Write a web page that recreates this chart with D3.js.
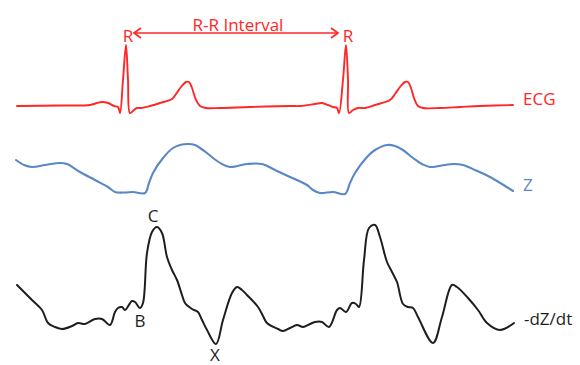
<!DOCTYPE html>
<html><head><meta charset="utf-8">
<script src="https://cdn.jsdelivr.net/npm/d3@7"></script>
<style>html,body{margin:0;padding:0;background:#fff;}svg{display:block;}</style>
</head><body>
<svg id="chart" width="580" height="365"></svg>
<script>
// ECG trace (time units, amplitude above baseline)
const ecgT = [1,44,74,81,86,92,98,102,104,107,110,112,114,118,121,125,134,144,156,160,165,170,173,176,180,184,190,204,234,274,284,299,306,312,317,321,323,327,330,332,333,337,342,349,359,374,379,384,389,392,395,398,402,407,424,444,464,497];
const ecgV = [0,0.5,1,3,4,3,0,-1,-7,26,61,26,-7,-4,-2,-2,0,3,7,12,19,24,24,18,6,0,-2,-2,-1,0,0,2,3,1,-1,-2,-7,26,61,26,-7,-4,-2,-2,1,6,12,19,24,24,18,8,0,-2,-2,-1,0,1];
// Impedance Z
const zT = [0,8,16,29,44,51,64,79,92,99,109,117,129,133,137,147,157,164,172,179,184,191,197,206,214,231,246,259,274,291,297,304,317,329,334,339,351,359,371,379,387,397,406,414,429,437,447,459,474,497];
const zV = [34,29,27,29,31,30,22,14,7,2,1.5,2,1,11,21,36,46,49,50,49,46,41,36,30,27,30,30,24,17,9,4,1,2,0,11,21,37,44,49,48,44,36,30,27,29,30,29,24,17,3];
// -dZ/dt
const dzT = [1,16,26,32,39,46,56,62,69,79,86,94,99,102,106,109,116,119,124,127,131,136,141,146,151,156,161,166,169,176,182,186,191,200,207,216,221,226,231,242,247,251,262,267,274,281,287,294,299,306,313,321,324,330,336,340,343,348,353,359,364,371,376,381,387,392,397,402,417,426,436,441,452,462,471,484,498];
const dzV = [59,44,34,21,17,15,18,21,20,25,25,19,32,36,37,34,43,42,36,41,91,112,117,111,87,74,64,49,41,35,32,24,14,0,24,51,57,54,49,37,28,21,15,13,16,19,17,20,22,22,17,34,36,32,41,40,37,84,116,119,107,82,72,62,40,37,36,27,1,27,59,57,46,34,21,14,21];
// Annotations
const rPeaks = [110, 330];
const seriesNames = ["ECG", "Z", "-dZ/dt"];
const pointLabels = [{t:137, v:117, text:"C"}, {t:124, v:20, text:"B"}, {t:199, v:0, text:"X"}];
const intervalLabel = "R-R Interval";

const svg = d3.select("#chart");
const RED = "#ff2626", BLUE = "#5a87c5", BLACK = "#1e1e1e";
const FONT = "'Open Sans', 'Noto Sans', sans-serif";

const x = d3.scaleLinear().domain([0, 500]).range([16, 516]);
const yEcg = d3.scaleLinear().domain([0, 61]).range([106, 45]);
const yZ = d3.scaleLinear().domain([0, 50]).range([194, 144]);
const yDz = d3.scaleLinear().domain([0, 119]).range([344, 225]);

function draw(T, V, ys, color, w) {
  const pts = T.map((t, i) => [t, V[i]]);
  const line = d3.line().x(d => x(d[0])).y(d => ys(d[1])).curve(d3.curveCatmullRom.alpha(0.5));
  svg.append("path").attr("d", line(pts)).attr("fill", "none")
    .attr("stroke", color).attr("stroke-width", w)
    .attr("stroke-linejoin", "round").attr("stroke-linecap", "round");
}
draw(ecgT, ecgV, yEcg, RED, 1.9);
draw(zT, zV, yZ, BLUE, 2.1);
draw(dzT, dzV, yDz, BLACK, 2);

function label(px, py, text, color, anchor) {
  svg.append("text").attr("x", px).attr("y", py).text(text)
    .attr("fill", color).attr("font-family", FONT).attr("font-size", 17)
    .attr("text-anchor", anchor || "middle");
}

// Right-side series labels
label(523, 105, seriesNames[0], RED, "start");
label(523, 191, seriesNames[1], BLUE, "start");
label(524, 325, seriesNames[2], BLACK, "start");

// R labels and interval arrow
rPeaks.forEach(t => label(x(t) + 2, 42, "R", RED));
const ay = 33, ax1 = x(rPeaks[0]) + 8, ax2 = x(rPeaks[1]) - 8;
svg.append("line").attr("x1", ax1).attr("x2", ax2).attr("y1", ay).attr("y2", ay)
  .attr("stroke", RED).attr("stroke-width", 1.7);
svg.append("path").attr("d", `M${ax1+7},${ay-5}L${ax1},${ay}L${ax1+7},${ay+5}`)
  .attr("fill", "none").attr("stroke", RED).attr("stroke-width", 1.7);
svg.append("path").attr("d", `M${ax2-7},${ay-5}L${ax2},${ay}L${ax2-7},${ay+5}`)
  .attr("fill", "none").attr("stroke", RED).attr("stroke-width", 1.7);
label((ax1 + ax2) / 2 + 2, 31, intervalLabel, RED);

// C, B, X points
label(x(pointLabels[0].t), yDz(pointLabels[0].v) - 5, pointLabels[0].text, BLACK);
label(x(pointLabels[1].t), 327, pointLabels[1].text, BLACK);
label(x(pointLabels[2].t), 361, pointLabels[2].text, BLACK);
</script>
</body></html>
